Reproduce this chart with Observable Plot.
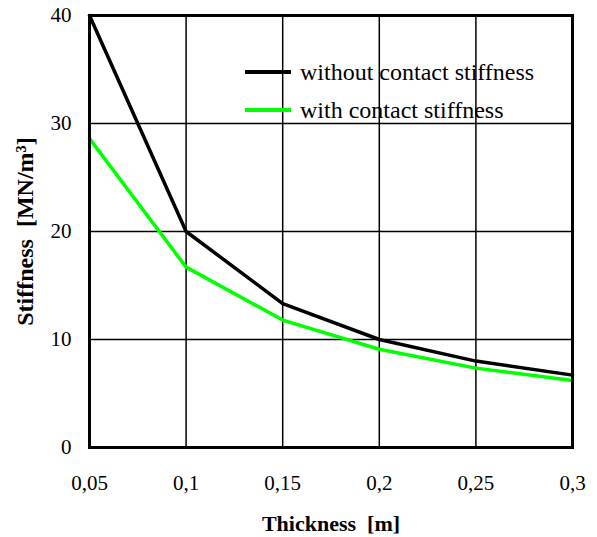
<!DOCTYPE html>
<html>
<head>
<meta charset="utf-8">
<script src="https://cdn.jsdelivr.net/npm/d3@7"></script>
<script src="https://cdn.jsdelivr.net/npm/@observablehq/plot@0.6"></script>
<style>
  html, body { margin: 0; padding: 0; background: #fff; }
  #wrap { position: relative; width: 597px; height: 537px; font-family: "Liberation Serif", "Times New Roman", serif; }
  #legend { position: absolute; left: 245px; top: 53px; font-size: 24px; color: #000; }
  #legend .row { display: flex; align-items: center; height: 38px; white-space: nowrap; }
  #legend .sw { width: 46px; height: 3.5px; margin-right: 9px; }
</style>
</head>
<body>
<div id="wrap"></div>
<script>
const thickness = [0.05, 0.1, 0.15, 0.2, 0.25, 0.3];
const withoutContact = [40, 20, 13.33, 10, 8, 6.7];
const withContact = [28.6, 16.7, 11.8, 9.1, 7.35, 6.2];
const seriesNames = ["without contact stiffness", "with contact stiffness"];
const seriesColors = ["#000000", "#00ff00"];
const xTicks = [0.05, 0.1, 0.15, 0.2, 0.25, 0.3];
const yTicks = [0, 10, 20, 30, 40];
const xTitle = "Thickness  [m]";
const yTitle = "Stiffness  [MN/m³]";

const rows = [];
thickness.forEach((t, i) => {
  rows.push({t, v: withoutContact[i], s: seriesNames[0]});
});
thickness.forEach((t, i) => {
  rows.push({t, v: withContact[i], s: seriesNames[1]});
});

const font = "Liberation Serif, Times New Roman, serif";
const chart = Plot.plot({
  width: 597,
  height: 537,
  marginLeft: 89,
  marginRight: 25,
  marginTop: 15,
  marginBottom: 90,
  style: { background: "#fff", fontFamily: font, color: "#000", overflow: "visible" },
  x: { domain: [0.05, 0.3] },
  y: { domain: [0, 40] },
  color: { domain: seriesNames, range: seriesColors },
  marks: [
    Plot.ruleX(xTicks.slice(1, -1), { stroke: "#000", strokeWidth: 1.5 }),
    Plot.ruleY(yTicks.slice(1, -1), { stroke: "#000", strokeWidth: 1.5 }),
    Plot.line(rows, { x: "t", y: "v", z: "s", stroke: "s", strokeWidth: 3.5 }),
    Plot.frame({ stroke: "#000", strokeWidth: 3 }),
    Plot.axisX({ ticks: xTicks, tickSize: 0, tickPadding: 28, fontSize: 21, label: null,
      tickFormat: d => String(d).replace(".", ",") }),
    Plot.axisY({ ticks: yTicks, tickSize: 0, tickPadding: 18, fontSize: 21, label: null }),
    Plot.text([xTitle], { frameAnchor: "bottom", textAnchor: "middle", lineAnchor: "middle", dy: 76,
      fontSize: 22, fontWeight: "bold", fill: "#000", letterSpacing: "1.7px" }),
    Plot.text([yTitle], { frameAnchor: "left", textAnchor: "middle", lineAnchor: "middle", dx: -64, rotate: -90,
      fontSize: 24, fontWeight: "bold", fill: "#000", letterSpacing: "2.6px" })
  ]
});

const wrap = document.getElementById("wrap");
wrap.appendChild(chart);
const legend = document.createElement("div");
legend.id = "legend";
seriesNames.forEach((n, i) => {
  const r = document.createElement("div");
  r.className = "row";
  const sw = document.createElement("div");
  sw.className = "sw";
  sw.style.background = seriesColors[i];
  const tx = document.createElement("span");
  tx.textContent = n;
  r.appendChild(sw);
  r.appendChild(tx);
  legend.appendChild(r);
});
wrap.appendChild(legend);
</script>
</body>
</html>
